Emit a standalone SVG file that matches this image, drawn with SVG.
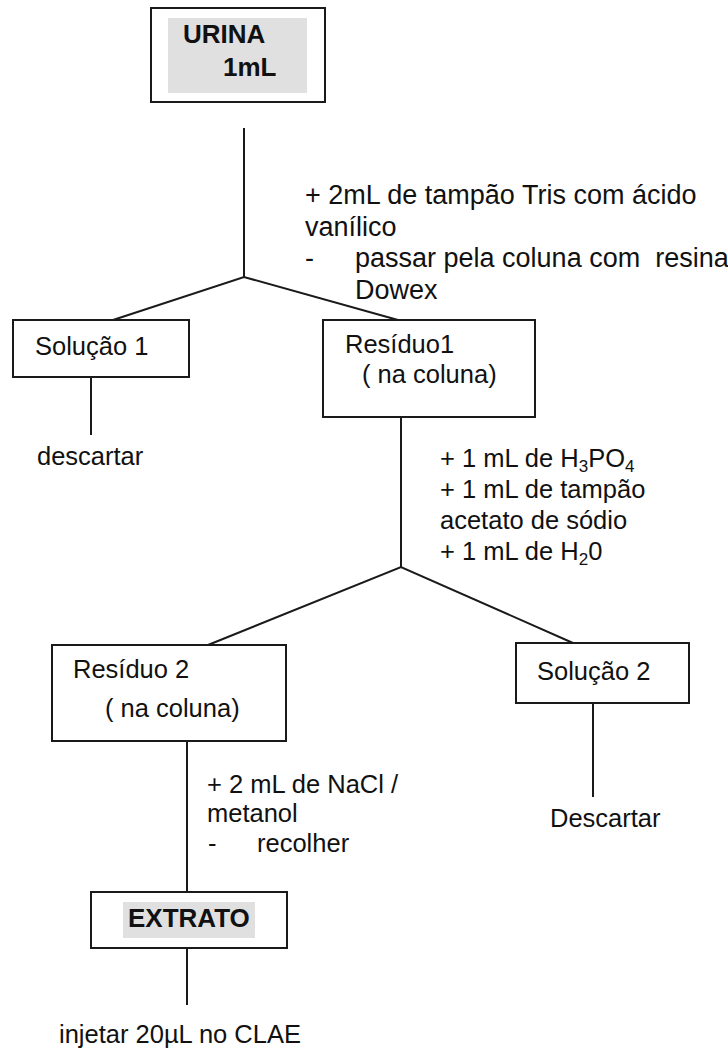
<svg xmlns="http://www.w3.org/2000/svg" width="728" height="1053" viewBox="0 0 728 1053">
<style>
.t{font-family:"Liberation Sans",Arial,sans-serif;font-size:25.5px;fill:#111}
.t27{font-family:"Liberation Sans",Arial,sans-serif;font-size:27px;fill:#111}
.b{font-family:"Liberation Sans",Arial,sans-serif;font-size:26px;font-weight:bold;fill:#111}
.box{fill:#fff;stroke:#1a1a1a;stroke-width:2}
.hl{fill:#e0e0e0}
.c{fill:none;stroke:#1a1a1a;stroke-width:2}
.sub{font-size:17px}
</style>
<rect width="728" height="1053" fill="#fff"/>
<g id="connectors">
<line class="c" x1="244" y1="128" x2="244" y2="277"/>
<polyline class="c" points="113,320 244,277 398,320"/>
<line class="c" x1="91" y1="377" x2="91" y2="435"/>
<line class="c" x1="401" y1="417" x2="401" y2="567"/>
<polyline class="c" points="208,645 401,567 573,643"/>
<line class="c" x1="187" y1="741" x2="187" y2="892"/>
<line class="c" x1="593" y1="703" x2="593" y2="797"/>
<line class="c" x1="187" y1="948" x2="187" y2="1005"/>
</g>
<g id="urina">
<rect class="box" x="151" y="8" width="174" height="94"/>
<rect class="hl" x="168" y="18" width="139" height="75"/>
<text class="b" x="183" y="43">URINA</text>
<text class="b" x="223" y="76">1mL</text>
</g>
<g id="step1">
<text class="t27" x="305" y="204">+ 2mL de tampão Tris com ácido</text>
<text class="t27" x="305" y="235.5">vanílico</text>
<text class="t27" x="305" y="267">-</text>
<text class="t27" x="355" y="267" xml:space="preserve">passar pela coluna com  resina</text>
<text class="t27" x="355" y="298.5">Dowex</text>
</g>
<g id="solucao1">
<rect class="box" x="13" y="320" width="176" height="57"/>
<text class="t" x="35" y="355">Solução 1</text>
</g>
<g id="descartar1">
<text class="t" x="37" y="465">descartar</text>
</g>
<g id="residuo1">
<rect class="box" x="323" y="320" width="212" height="97"/>
<text class="t" x="345" y="353">Resíduo1</text>
<text class="t" x="362" y="383">( na coluna)</text>
</g>
<g id="step2">
<text class="t" x="440" y="467">+ 1 mL de H<tspan class="sub" dy="5">3</tspan><tspan dy="-5">PO</tspan><tspan class="sub" dy="5">4</tspan></text>
<text class="t" x="440" y="498">+ 1 mL de tampão</text>
<text class="t" x="440" y="529">acetato de sódio</text>
<text class="t" x="440" y="560">+ 1 mL de H<tspan class="sub" dy="5">2</tspan><tspan dy="-5">0</tspan></text>
</g>
<g id="residuo2">
<rect class="box" x="52" y="645" width="234" height="96"/>
<text class="t" x="73" y="678">Resíduo 2</text>
<text class="t" x="105" y="717">( na coluna)</text>
</g>
<g id="solucao2">
<rect class="box" x="516" y="643" width="173" height="60"/>
<text class="t" x="537" y="680">Solução 2</text>
</g>
<g id="descartar2">
<text class="t" x="550" y="827">Descartar</text>
</g>
<g id="step3">
<text class="t" x="207" y="793">+ 2 mL de NaCl /</text>
<text class="t" x="207" y="822">metanol</text>
<text class="t" x="208" y="852">-</text>
<text class="t" x="257" y="852">recolher</text>
</g>
<g id="extrato">
<rect class="box" x="91" y="892" width="196" height="56"/>
<rect class="hl" x="123" y="902" width="132" height="36"/>
<text class="b" x="128" y="927">EXTRATO</text>
</g>
<g id="injetar">
<text class="t" x="59" y="1043">injetar 20µL no CLAE</text>
</g>
</svg>
